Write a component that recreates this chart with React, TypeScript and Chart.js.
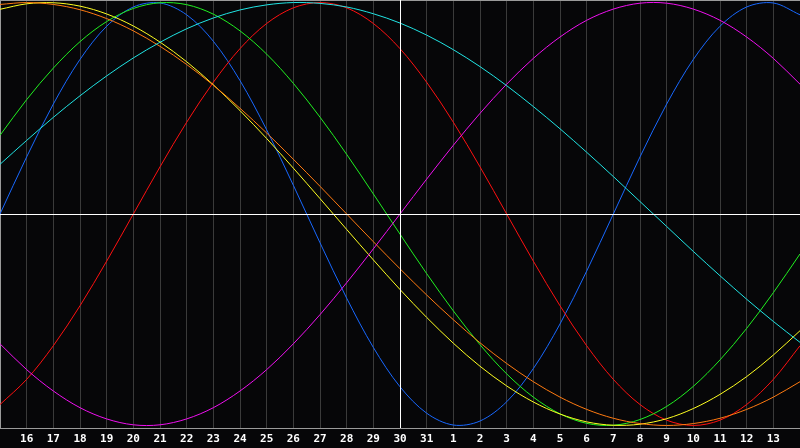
import React, { useEffect, useRef } from "react";
import { Chart, registerables } from "chart.js";

Chart.register(...registerables);

const dayLabels = [
  "15", "16", "17", "18", "19", "20", "21", "22", "23", "24", "25", "26", "27", "28", "29", "30", "31",
  "1", "2", "3", "4", "5", "6", "7", "8", "9", "10", "11", "12", "13", "14",
];

const physical = [0, 27.0, 52.0, 73.1, 88.8, 97.9, 99.8, 94.2, 81.7, 63.1, 39.8, 13.6, -13.6, -39.8, -63.1, -81.7, -94.2, -99.8, -97.9, -88.8, -73.1, -52.0, -27.0, 0, 27.0, 52.0, 73.1, 88.8, 97.9, 99.8, 94.2];
const emotional = [-90.1, -78.2, -62.3, -43.4, -22.3, 0, 22.3, 43.4, 62.3, 78.2, 90.1, 97.5, 100, 97.5, 90.1, 78.2, 62.3, 43.4, 22.3, 0, -22.3, -43.4, -62.3, -78.2, -90.1, -97.5, -100, -97.5, -90.1, -78.2, -62.3];
const intellectual = [37.2, 54.1, 69.0, 81.5, 91.0, 97.2, 99.9, 99.0, 94.5, 86.6, 75.6, 61.8, 45.8, 28.2, 9.5, -9.5, -28.2, -45.8, -61.8, -75.6, -86.6, -94.5, -99.0, -99.9, -97.2, -91.0, -81.5, -69.0, -54.1, -37.2, -18.9];
const intuitive = [-61.4, -73.6, -83.7, -91.6, -96.9, -99.7, -99.7, -96.9, -91.6, -83.7, -73.6, -61.4, -47.6, -32.5, -16.5, 0, 16.5, 32.5, 47.6, 61.4, 73.6, 83.7, 91.6, 96.9, 99.7, 99.7, 96.9, 91.6, 83.7, 73.6, 61.4];
const aesthetic = [96.8, 99.4, 99.9, 98.3, 94.6, 88.9, 81.3, 72.0, 61.1, 48.9, 35.7, 21.7, 7.3, -7.3, -21.7, -35.7, -48.9, -61.1, -72.0, -81.3, -88.9, -94.6, -98.3, -99.9, -99.4, -96.8, -92.0, -85.3, -76.9, -66.7, -55.2];
const awareness = [99.1, 100, 99.1, 96.6, 92.4, 86.6, 79.3, 70.7, 60.9, 50.0, 38.3, 25.9, 13.1, 0, -13.1, -25.9, -38.3, -50.0, -60.9, -70.7, -79.3, -86.6, -92.4, -96.6, -99.1, -100, -99.1, -96.6, -92.4, -86.6, -79.3];
const spiritual = [23.5, 34.8, 45.7, 55.9, 65.3, 73.8, 81.2, 87.6, 92.7, 96.5, 98.9, 100.0, 99.6, 97.9, 94.7, 90.3, 84.6, 77.7, 69.7, 60.7, 50.8, 40.3, 29.2, 17.7, 5.9, -5.9, -17.7, -29.2, -40.3, -50.8, -60.7];

const Y_LIMIT = 101.2;
const TODAY_INDEX = 15;

export default function App() {
  const canvasRef = useRef<HTMLCanvasElement | null>(null);

  useEffect(() => {
    document.body.style.margin = "0";
    document.body.style.background = "#060608";
    const canvas = canvasRef.current;
    if (!canvas) return;

    const crosshair = {
      id: "crosshair",
      afterDatasetsDraw(chart: any) {
        const { ctx, chartArea, scales } = chart;
        const x = Math.round(scales.x.getPixelForValue(TODAY_INDEX)) + 0.5;
        const y = Math.round(scales.y.getPixelForValue(0)) + 0.5;
        ctx.save();
        ctx.strokeStyle = "#ffffff";
        ctx.lineWidth = 1;
        ctx.beginPath();
        ctx.moveTo(chartArea.left, y);
        ctx.lineTo(chartArea.right, y);
        ctx.moveTo(x, chartArea.top);
        ctx.lineTo(x, chartArea.bottom);
        ctx.stroke();
        ctx.restore();
      },
    };

    const bg = {
      id: "bg",
      beforeDraw(chart: any) {
        const { ctx, width, height } = chart;
        ctx.save();
        ctx.fillStyle = "#060608";
        ctx.fillRect(0, 0, width, height);
        ctx.restore();
      },
    };

    const mk = (data: number[], color: string) => ({
      data,
      borderColor: color,
      borderWidth: 1,
      pointRadius: 0,
      pointBorderWidth: 0,
      pointHoverRadius: 0,
      tension: 0.33,
      fill: false,
    });

    const chart = new Chart(canvas, {
      type: "line",
      data: {
        labels: dayLabels,
        datasets: [
          mk(spiritual, "#20e4e4"),
          mk(intuitive, "#f010f0"),
          mk(awareness, "#ff7a10"),
          mk(aesthetic, "#ffff20"),
          mk(intellectual, "#20f020"),
          mk(emotional, "#ff1010"),
          mk(physical, "#1868ff"),
        ],
      },
      options: {
        animation: false,
        responsive: false,
        layout: { padding: 0, autoPadding: false },
        plugins: { legend: { display: false }, tooltip: { enabled: false } },
        scales: {
          x: {
            type: "category",
            offset: false,
            afterFit: (s: any) => {
              s.height = 20;
              s.paddingLeft = 0;
              s.paddingRight = 0;
            },
            grid: {
              drawTicks: false,
              offset: false,
              color: (c: any) => (c.index === TODAY_INDEX ? "#ffffff" : "#3a3a3a"),
              lineWidth: 1,
            },
            border: { display: true, color: "#9a9a9a", width: 1 },
            ticks: {
              autoSkip: false,
              maxRotation: 0,
              minRotation: 0,
              padding: 5,
              color: "#ffffff",
              font: { family: "'DejaVu Sans Mono', monospace", size: 11, weight: "bold" },
              callback: (_v: any, i: number) => (i === 0 || i === dayLabels.length - 1 ? "" : dayLabels[i]),
            },
          },
          y: {
            min: -Y_LIMIT,
            max: Y_LIMIT,
            afterFit: (s: any) => {
              s.width = 0;
              s.paddingTop = 0;
              s.paddingBottom = 0;
            },
            afterBuildTicks: (s: any) => {
              s.ticks = [{ value: -Y_LIMIT }, { value: 0 }, { value: Y_LIMIT }];
            },
            grid: {
              drawTicks: false,
              color: (c: any) => (c.tick && c.tick.value === 0 ? "#ffffff" : "#9a9a9a"),
              lineWidth: 1,
            },
            border: { display: true, color: "#9a9a9a", width: 1 },
            ticks: { display: false },
          },
        },
      },
      plugins: [bg, crosshair],
    } as any);

    return () => chart.destroy();
  }, []);

  return (
    <div style={{ width: 800, height: 448, background: "#060608" }}>
      <canvas ref={canvasRef} width={800} height={448} style={{ display: "block" }} />
    </div>
  );
}
